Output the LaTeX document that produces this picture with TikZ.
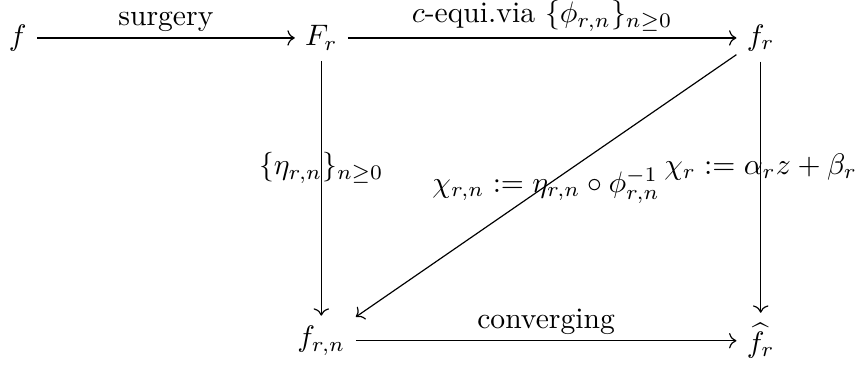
\documentclass[tikz,border=0pt]{standalone}
\usepackage{amsmath,amssymb}
\usepackage{tikz}
\usetikzlibrary{arrows.meta,positioning,calc}

\begin{document}
\begin{tikzpicture}[
  obj/.style={inner sep=3.33pt},
  mapto/.style={->},
  toplab/.style={midway,above,inner sep=2pt},
  sidelab/.style={pos=0.42}
]
  \useasboundingbox (0,0) rectangle (10.15,4.35);

  \node[obj] (f)    at (0.21,3.90) {$f$};
  \node[obj] (Fr)   at (3.81,3.90) {$F_r$};
  \node[obj] (fr)   at (9.02,3.90) {$f_r$};
  \node[obj] (frn)  at (3.81,0.31) {$f_{r,n}$};
  \node[obj] (fhat) at (9.02,0.31) {$\widehat{f_r}$};

  \draw[mapto] (f) -- node[toplab] {surgery} (Fr);
  \draw[mapto] (Fr) -- node[toplab] {$c$-equi.via $\{\phi_{r,n}\}_{n\geq 0}$} (fr);
  \draw[mapto] (Fr) -- node[sidelab] {$\{\eta_{r,n}\}_{n\geq 0}$} (frn);
  \draw[mapto] (fr) -- node[midway] {$\chi_{r,n}:=\eta_{r,n}\circ\phi_{r,n}^{-1}$} (frn);
  \draw[mapto] (fr) -- node[sidelab] {$\chi_r:=\alpha_r z+\beta_r$} (fhat);
  \draw[mapto] (frn) -- node[toplab] {converging} (fhat);
\end{tikzpicture}
\end{document}
